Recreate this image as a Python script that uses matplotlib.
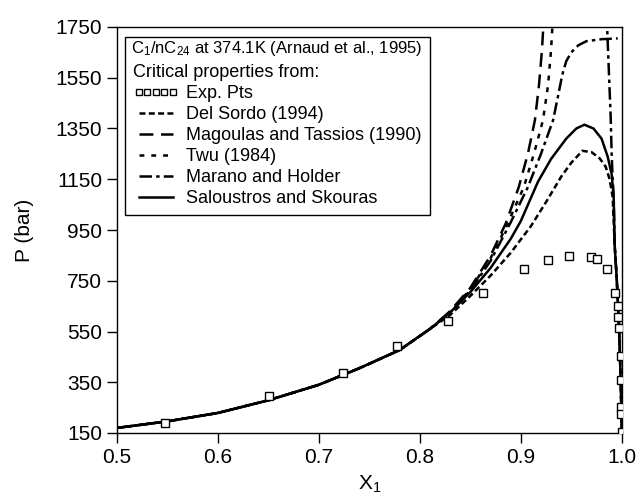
import numpy as np
import matplotlib
matplotlib.use("Agg")
import matplotlib.pyplot as plt
from matplotlib.patches import Rectangle

plt.rcParams['font.family'] = ['Liberation Sans', 'DejaVu Sans']
plt.rcParams['mathtext.fontset'] = 'custom'
plt.rcParams['mathtext.rm'] = 'Liberation Sans'
plt.rcParams['mathtext.it'] = 'Liberation Sans:italic'
plt.rcParams['lines.scale_dashes'] = False

# experimental points (Arnaud et al., 1995)
exp_x = [0.548, 0.651, 0.724, 0.777, 0.828, 0.863, 0.903, 0.927, 0.948, 0.970,
         0.975, 0.985, 0.993, 0.996, 0.996, 0.997, 0.999, 0.999, 0.999, 0.999, 1.0]
exp_p = [188, 294, 388, 492, 590, 700, 795, 830, 848, 845,
         837, 798, 700, 652, 609, 562, 455, 357, 254, 223, 154]

# shared low-x part of all model curves
base_x = [0.50, 0.55, 0.60, 0.65, 0.70, 0.74, 0.78, 0.81]
base_p = [170, 196, 229, 279, 340, 405, 477, 560]

# shared dew-side tail near x1 = 1
tail_x = [0.993, 0.995, 0.997, 0.998, 0.999, 1.0]
tail_p = [890, 760, 600, 480, 350, 150]

delsordo_x = [0.83, 0.85, 0.87, 0.89, 0.91, 0.925, 0.94, 0.95, 0.961, 0.97, 0.978, 0.984, 0.988, 0.991]
delsordo_p = [615, 690, 770, 860, 965, 1060, 1160, 1215, 1262, 1257, 1233, 1200, 1150, 1080]

magoulas_x = [0.83, 0.85, 0.87, 0.885, 0.898, 0.907, 0.914, 0.918, 0.921, 0.923]
magoulas_p = [630, 722, 848, 975, 1119, 1250, 1383, 1520, 1660, 1800]

twu_x = [0.83, 0.85, 0.87, 0.885, 0.903, 0.913, 0.922, 0.927, 0.930, 0.932]
twu_p = [628, 716, 838, 958, 1119, 1250, 1383, 1520, 1660, 1800]

marano_x = [0.83, 0.85, 0.87, 0.89, 0.907, 0.92, 0.932, 0.937, 0.941, 0.945, 0.95, 0.957, 0.965, 0.98, 0.996]
marano_p = [625, 712, 828, 980, 1119, 1250, 1383, 1480, 1560, 1615, 1650, 1678, 1694, 1702, 1705]
marano_dew_x = [0.985, 0.987, 0.989, 0.990, 0.991, 0.992]
marano_dew_p = [1800, 1600, 1400, 1250, 1150, 1080]

salou_x = [0.83, 0.85, 0.87, 0.89, 0.90, 0.917, 0.93, 0.945, 0.955, 0.963, 0.972, 0.980, 0.986, 0.990, 0.992]
salou_p = [625, 705, 800, 915, 985, 1140, 1230, 1310, 1350, 1365, 1350, 1310, 1240, 1170, 1080]

fig = plt.figure(figsize=(6.39, 5.0), dpi=100)
ax = fig.add_axes([0.183, 0.134, 0.790, 0.812])

lw = 1.8
h_exp, = ax.plot(exp_x, exp_p, 's', ms=6, mfc='white', mec='black', mew=1.0,
                 label='Exp. Pts', zorder=5)
h_ds, = ax.plot(base_x + delsordo_x + tail_x, base_p + delsordo_p + tail_p,
                color='black', lw=lw, dashes=(4.3, 2.4), label='Del Sordo (1994)')
h_mg, = ax.plot(base_x + magoulas_x, base_p + magoulas_p,
                color='black', lw=lw, dashes=(10, 5.5), label='Magoulas and Tassios (1990)')
h_tw, = ax.plot(base_x + twu_x, base_p + twu_p,
                color='black', lw=lw, dashes=(3.5, 5), label='Twu (1984)')
h_mh, = ax.plot(base_x + marano_x + [np.nan] + marano_dew_x + tail_x,
                base_p + marano_p + [np.nan] + marano_dew_p + tail_p,
                color='black', lw=lw, dashes=(9, 3, 2.5, 3), label='Marano and Holder')
h_ss, = ax.plot(base_x + salou_x + tail_x, base_p + salou_p + tail_p,
                color='black', lw=lw, ls='-', label='Saloustros and Skouras')

ax.set_xlim(0.5, 1.0)
ax.set_ylim(150, 1750)
ax.set_xticks(np.arange(0.5, 1.01, 0.1))
ax.set_xticklabels(['0.5', '0.6', '0.7', '0.8', '0.9', '1.0'])
ax.set_yticks(np.arange(150, 1751, 200))
ax.tick_params(labelsize=15, direction='out', length=7, width=1.0, top=False, right=False)
for s in ax.spines.values():
    s.set_linewidth(1.0)

ax.set_xlabel('X$_\\mathrm{1}$', fontsize=15, labelpad=5)
ax.set_ylabel('P (bar)', fontsize=15, labelpad=16)

# legend without frame, placed below the first (hand drawn) title line
leg = ax.legend(handles=[h_exp, h_ds, h_mg, h_tw, h_mh, h_ss],
                title='Critical properties from:',
                loc='upper left', bbox_to_anchor=(0.016, 0.928), borderaxespad=0,
                fontsize=13, title_fontsize=13, alignment='left',
                numpoints=5, markerscale=0.75, handlelength=2.5, handletextpad=0.45,
                labelspacing=0.22, borderpad=0.45, frameon=False)

# frame round legend + first title line (figure pixels from bottom-left)
fig.canvas.draw()
bb = leg.get_window_extent()
W, H = fig.bbox.width, fig.bbox.height
box_top = H - 37
fig.add_artist(Rectangle((bb.x0 / W, bb.y0 / H), bb.width / W, (box_top - bb.y0) / H,
                         transform=fig.transFigure, fill=False, edgecolor='black', lw=1.0))
fig.text((bb.x0 + 6) / W, (H - 49) / H,
         'C$_\\mathrm{1}$/nC$_\\mathrm{24}$ at 374.1K (Arnaud et al., 1995)',
         fontsize=12, ha='left', va='center')

fig.savefig('out.png', dpi=100)
